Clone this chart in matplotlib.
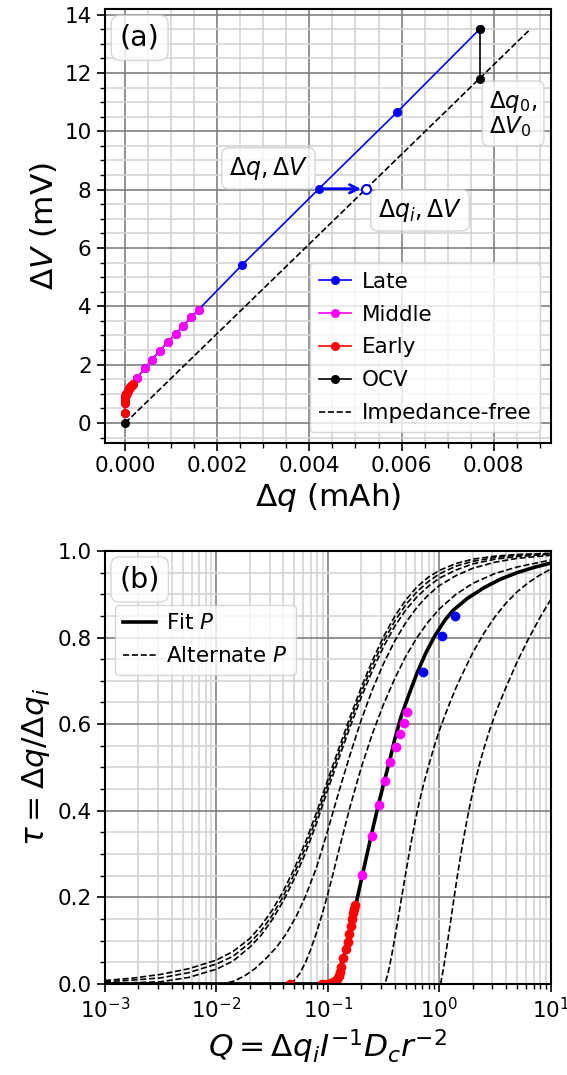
import numpy as np
import matplotlib.pyplot as plt
from matplotlib.ticker import AutoMinorLocator

# ---- panel (a): voltage step vs charge ----
early_dq = [0.0, 0.0, 0.0000004, 0.0000012, 0.0000022, 0.000004, 0.000007, 0.000012, 0.000018,
            0.000025, 0.00004, 0.000059, 0.000073, 0.00009, 0.000106, 0.000122, 0.000136,
            0.000148, 0.00016]
early_dv = [0.35, 0.67, 0.745, 0.81, 0.855, 0.89, 0.93, 0.955, 0.98, 1.01, 1.04, 1.11, 1.15,
            1.19, 1.23, 1.26, 1.285, 1.31, 1.34]
mid_dq = [0.000252, 0.000425, 0.000582, 0.000747, 0.000920, 0.001093, 0.001266, 0.001431, 0.001596]
mid_dv = [1.54, 1.87, 2.17, 2.48, 2.76, 3.05, 3.34, 3.62, 3.89]
late_dq = [0.002532, 0.004207, 0.005898, 0.0077]
late_dv = [5.41, 8.03, 10.65, 13.51]
ocv_dq = [0.0077, 0.0077]
ocv_dv = [13.51, 11.78]
free_dq = [0.0, 0.0088]
free_dv = [0.0, 13.51]
dqi_example = 0.005238   # impedance-free charge for dV = 8.03

# ---- panel (b): tau vs Q ----
fit_q = [0.001, 0.0955, 0.1072, 0.1148, 0.1230, 0.1318, 0.1413, 0.1514, 0.1622, 0.1738, 0.1862,
         0.1995, 0.2239, 0.2512, 0.2818, 0.3162, 0.3548, 0.3981, 0.4571, 0.5370, 0.6310, 0.7586,
         0.9120, 1.122, 1.318, 1.778, 2.512, 3.548, 5.012, 7.079, 10.0]
fit_tau = [0, 0, 0.003, 0.010, 0.024, 0.045, 0.070, 0.100, 0.135, 0.170, 0.205, 0.240, 0.298,
           0.355, 0.410, 0.462, 0.511, 0.565, 0.620, 0.670, 0.718, 0.765, 0.804, 0.840, 0.862,
           0.890, 0.915, 0.935, 0.950, 0.962, 0.972]

# three nearly overlapping alternates share one Q grid
alt_q_a = [0.001, 0.001778, 0.003162, 0.005623, 0.01, 0.01413, 0.01995, 0.02512, 0.03162, 0.03981,
           0.05012, 0.0631, 0.07943, 0.1, 0.1259, 0.1585, 0.1995, 0.2512, 0.3162, 0.3981, 0.5012,
           0.631, 0.7943, 1.0, 1.413, 1.995, 3.162, 5.012, 10.0]
alt_tau_1 = [0.008, 0.0135, 0.022, 0.035, 0.055, 0.075, 0.105, 0.134, 0.170, 0.214, 0.267, 0.328,
             0.397, 0.472, 0.545, 0.617, 0.685, 0.747, 0.802, 0.849, 0.887, 0.917, 0.939, 0.955,
             0.971, 0.981, 0.988, 0.992, 0.9945]
alt_tau_2 = [0.005, 0.009, 0.014, 0.026, 0.046, 0.064, 0.095, 0.122, 0.158, 0.202, 0.255, 0.316,
             0.385, 0.461, 0.534, 0.606, 0.674, 0.736, 0.791, 0.838, 0.876, 0.906, 0.929, 0.947,
             0.965, 0.976, 0.985, 0.990, 0.9935]
alt_tau_3 = [0.002, 0.003, 0.005, 0.015, 0.034, 0.053, 0.085, 0.112, 0.148, 0.191, 0.243, 0.303,
             0.372, 0.449, 0.522, 0.594, 0.662, 0.724, 0.779, 0.826, 0.864, 0.894, 0.918, 0.937,
             0.956, 0.970, 0.981, 0.987, 0.9925]
alt_q_4 = [0.001, 0.01148, 0.01413, 0.01778, 0.02239, 0.02818, 0.03467, 0.04266, 0.05248, 0.0631,
           0.07943, 0.1, 0.1259, 0.1585, 0.1995, 0.2512, 0.3162, 0.3981, 0.5012, 0.631, 0.7943,
           1.0, 1.413, 1.995, 3.162, 5.012, 10.0]
alt_tau_4 = [0, 0, 0.006, 0.018, 0.036, 0.060, 0.085, 0.117, 0.158, 0.203, 0.270, 0.355, 0.445,
             0.530, 0.610, 0.680, 0.740, 0.792, 0.835, 0.870, 0.898, 0.920, 0.943, 0.960, 0.974,
             0.983, 0.990]
alt_q_5 = [0.001, 0.04581, 0.05012, 0.05623, 0.0631, 0.07079, 0.07943, 0.08913, 0.1, 0.1122,
           0.1259, 0.1413, 0.1585, 0.1995, 0.2512, 0.3162, 0.3981, 0.5012, 0.631, 0.7943, 1.0,
           1.413, 1.995, 3.162, 5.012, 10.0]
alt_tau_5 = [0, 0, 0.008, 0.025, 0.050, 0.082, 0.120, 0.162, 0.208, 0.258, 0.310, 0.360, 0.410,
             0.500, 0.578, 0.646, 0.705, 0.757, 0.800, 0.836, 0.866, 0.900, 0.925, 0.948, 0.963,
             0.979]
alt_q_6 = [0.001, 0.3258, 0.3467, 0.3715, 0.3981, 0.4266, 0.4571, 0.5012, 0.5495, 0.6026, 0.6607,
           0.7244, 0.7943, 0.8913, 1.0, 1.122, 1.259, 1.413, 1.585, 1.995, 2.512, 3.162, 3.981,
           5.012, 6.31, 7.943, 10.0]
alt_tau_6 = [0, 0, 0.025, 0.062, 0.105, 0.150, 0.197, 0.258, 0.317, 0.372, 0.420, 0.462, 0.500,
             0.545, 0.585, 0.620, 0.653, 0.684, 0.712, 0.765, 0.810, 0.848, 0.880, 0.906, 0.927,
             0.944, 0.958]
alt_q_7 = [0.001, 1.028, 1.096, 1.175, 1.259, 1.349, 1.445, 1.585, 1.738, 1.905, 2.089, 2.291,
           2.512, 2.818, 3.162, 3.548, 3.981, 5.012, 6.31, 7.943, 10.0]
alt_tau_7 = [0, 0, 0.040, 0.090, 0.142, 0.195, 0.246, 0.310, 0.368, 0.420, 0.466, 0.507, 0.544,
             0.585, 0.622, 0.655, 0.686, 0.745, 0.797, 0.845, 0.888]

early_q = [0.0458, 0.0881, 0.0977, 0.1061, 0.1121, 0.1168, 0.1218, 0.1252, 0.1287, 0.1322, 0.1360,
           0.1457, 0.1508, 0.1561, 0.1615, 0.1649, 0.1684, 0.1718, 0.1754]
early_tau = [0.0, 0.0, 0.0008, 0.0023, 0.0039, 0.0069, 0.0116, 0.0193, 0.0286, 0.0386, 0.0594,
             0.0810, 0.0980, 0.1157, 0.1327, 0.1489, 0.1628, 0.1736, 0.183]
mid_q = [0.201, 0.248, 0.286, 0.328, 0.364, 0.407, 0.442, 0.483, 0.510]
mid_tau = [0.252, 0.342, 0.413, 0.468, 0.513, 0.547, 0.577, 0.603, 0.629]
late_q = [0.720, 1.067, 1.396]
late_tau = [0.7215, 0.804, 0.849]

plt.rcParams['font.size'] = 15.5
plt.rcParams['axes.linewidth'] = 1.5

fig = plt.figure(figsize=(5.67, 10.75), dpi=100)
ax1 = fig.add_axes([0.185, 0.5882, 0.7864, 0.4032])
ax2 = fig.add_axes([0.185, 0.0847, 0.7864, 0.4028])

box = dict(boxstyle='round,pad=0.3', facecolor='white', edgecolor='0.8', alpha=0.8)
label_size = 22.5
leg_kw = dict(fontsize=15.5, handlelength=1.5, handletextpad=0.5, labelspacing=0.6)


def style_grid(ax):
    ax.grid(which='major', color='0.5', lw=1.2)
    ax.grid(which='minor', color='0.83', lw=1.2)
    ax.set_axisbelow(True)
    ax.tick_params(which='major', length=6, width=1.2)
    ax.tick_params(which='minor', length=3.5, width=1.0)


# ---- (a) ----
all_dq = np.array(early_dq + mid_dq + late_dq)
all_dv = np.array(early_dv + mid_dv + late_dv)
n_e = len(early_dq)
n_m = n_e + len(mid_dq)
mk = dict(marker='o', ms=5.5, lw=1.2)
ax1.plot(all_dq, all_dv, color='b', label='Late', **mk)
ax1.plot(all_dq[:n_m], all_dv[:n_m], color='magenta', label='Middle', **mk)
ax1.plot(all_dq[:n_e], all_dv[:n_e], color='r', label='Early', **mk)
ax1.plot(ocv_dq, ocv_dv, color='k', label='OCV', **mk)
ax1.plot(free_dq[0], free_dv[0], 'o', color='k', ms=5.5)
ax1.plot(free_dq, free_dv, '--', color='k', lw=1.2, label='Impedance-free')

ax1.plot(dqi_example, late_dv[1], 'o', mfc='white', mec='b', ms=6.5, mew=1.5)
ax1.annotate('', xy=(dqi_example, late_dv[1]), xytext=(late_dq[1], late_dv[1]),
             arrowprops=dict(arrowstyle='->', color='b', lw=2, shrinkA=0, shrinkB=4,
                             mutation_scale=15))
ax1.text(0.00311, 8.73, r'$\Delta q, \Delta V$', ha='center', va='center', fontsize=17, bbox=box)
ax1.text(0.0064, 7.29, r'$\Delta q_i, \Delta V$', ha='center', va='center', fontsize=17, bbox=box)
ax1.text(0.00790, 11.45, '$\\Delta q_0,$\n$\\Delta V_0$', ha='left', va='top',
         multialignment='left', linespacing=0.95, fontsize=16.5, bbox=box)
ax1.text(0.078, 0.934, '(a)', transform=ax1.transAxes, ha='center', va='center',
         fontsize=20.5, bbox=box)

ax1.set_xticks([0.000, 0.002, 0.004, 0.006, 0.008])
ax1.xaxis.set_minor_locator(AutoMinorLocator())
ax1.yaxis.set_minor_locator(AutoMinorLocator())
style_grid(ax1)
ax1.set_xlabel(r'$\Delta q$ (mAh)', fontsize=label_size)
ax1.set_ylabel(r'$\Delta V$ (mV)', fontsize=label_size)
ax1.legend(loc='lower right', **leg_kw)

# ---- (b) ----
ax2.plot(fit_q, fit_tau, '-', color='k', lw=2.6, label='Fit $P$')
alt_sets = [(alt_q_a, alt_tau_1), (alt_q_a, alt_tau_2), (alt_q_a, alt_tau_3), (alt_q_4, alt_tau_4),
            (alt_q_5, alt_tau_5), (alt_q_6, alt_tau_6), (alt_q_7, alt_tau_7)]
for i, (q, t) in enumerate(alt_sets):
    ax2.plot(q, t, '--', color='k', lw=1.2, label='Alternate $P$' if i == 0 else None)
ax2.plot(early_q, early_tau, 'o', color='r', ms=6)
ax2.plot(mid_q, mid_tau, 'o', color='magenta', ms=6)
ax2.plot(late_q, late_tau, 'o', color='b', ms=6)

ax2.set_xscale('log')
ax2.set_xlim(1e-3, 1e1)
ax2.set_ylim(0, 1)
ax2.yaxis.set_minor_locator(AutoMinorLocator())
style_grid(ax2)
ax2.text(0.078, 0.934, '(b)', transform=ax2.transAxes, ha='center', va='center',
         fontsize=20.5, bbox=box)
ax2.set_xlabel(r'$Q = \Delta q_i I^{-1} D_c r^{-2}$', fontsize=label_size)
ax2.set_ylabel(r'$\tau = \Delta q/\Delta q_i$', fontsize=label_size)
ax2.legend(loc='upper left', bbox_to_anchor=(0.022, 0.876), borderaxespad=0, **leg_kw)

fig.savefig('out.png', dpi=100)
